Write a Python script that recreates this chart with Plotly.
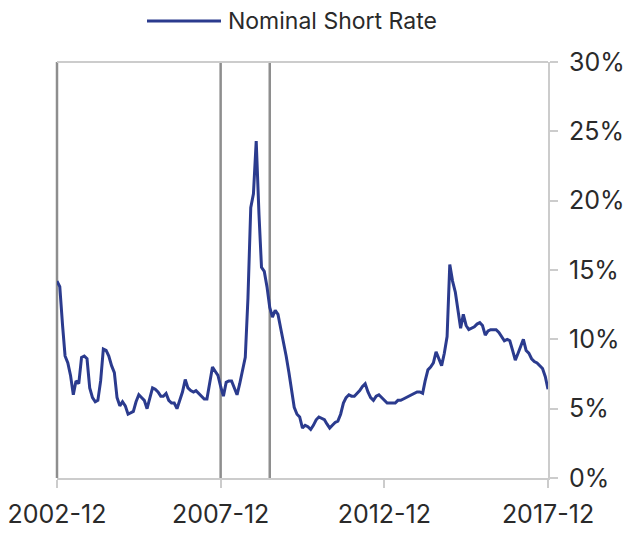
import pandas as pd
import plotly.graph_objects as go

# Monthly nominal short rate (%), starting 2002-12
start_month = "2002-12-01"
rate_values = [
    14.2, 13.8, 11.0, 8.8, 8.3, 7.4, 6.0, 7.0, 6.8, 8.7,
    8.8, 8.6, 6.5, 5.8, 5.5, 5.6, 7.0, 9.3, 9.2, 8.8,
    8.1, 7.6, 5.8, 5.2, 5.5, 5.2, 4.6, 4.7, 4.8, 5.5,
    6.0, 5.8, 5.6, 5.0, 5.8, 6.5, 6.4, 6.2, 5.9, 5.9,
    6.1, 5.6, 5.4, 5.4, 5.0, 5.6, 6.2, 7.1, 6.5, 6.3,
    6.2, 6.3, 6.1, 5.9, 5.7, 5.7, 7.0, 8.0, 7.7, 7.4,
    6.6, 5.9, 6.9, 7.0, 7.0, 6.5, 6.0, 6.8, 7.8, 8.7,
    13.0, 19.5, 20.5, 24.3, 19.0, 15.2, 14.9, 13.8, 12.3, 11.6,
    12.1, 11.8, 10.8, 9.9, 8.8, 7.6, 6.3, 5.1, 4.6, 4.4,
    3.6, 3.8, 3.7, 3.5, 3.8, 4.2, 4.4, 4.3, 4.2, 3.9,
    3.6, 3.8, 4.0, 4.1, 4.6, 5.4, 5.8, 6.0, 5.9, 5.9,
    6.1, 6.3, 6.6, 6.8, 6.2, 5.8, 5.6, 5.9, 6.0, 5.8,
    5.6, 5.4, 5.4, 5.4, 5.4, 5.6, 5.6, 5.7, 5.8, 5.9,
    6.0, 6.1, 6.2, 6.2, 6.1, 7.0, 7.8, 8.0, 8.3, 9.1,
    8.6, 8.1, 9.0, 10.2, 15.4, 14.2, 13.4, 12.3, 10.8, 11.8,
    11.0, 10.7, 10.8, 10.9, 11.1, 11.2, 11.0, 10.3, 10.6, 10.7,
    10.7, 10.7, 10.5, 10.2, 9.9, 10.0, 9.9, 9.2, 8.5, 9.0,
    9.6, 10.0, 9.2, 9.0, 8.6, 8.4, 8.3, 8.1, 7.9, 7.3,
    6.4,
]
recession_lines = ["2007-12-01", "2009-06-01"]
x_tick_vals = ["2002-12-01", "2007-12-01", "2012-12-01", "2017-12-01"]
x_tick_text = ["2002-12", "2007-12", "2012-12", "2017-12"]
y_tick_vals = [0, 5, 10, 15, 20, 25, 30]
y_tick_text = ["0%", "5%", "10%", "15%", "20%", "25%", "30%"]
series_name = "Nominal Short Rate"

dates = pd.date_range(start=start_month, periods=len(rate_values), freq="MS")

LINE_COLOR = "#2b3b8e"
FAM = "Inter, Lato, 'Noto Sans', sans-serif"
X_FONT = dict(family=FAM, size=25, color="#2a2a2a")
Y_FONT = dict(family=FAM, size=25, color="#2a2a2a")
LEG_FONT = dict(family=FAM, size=23, color="#2a2a2a")

# page body adds an 8px offset; size the figure to fill the rest
OFF = 8
W, H = 635 - OFF, 533 - OFF
L, R, T, B = 57 - OFF, 87, 62 - OFF, 55
PW, PH = W - L - R, H - T - B

fig = go.Figure()
fig.add_trace(go.Scatter(
    x=dates, y=rate_values, mode="lines", name=series_name,
    line=dict(color=LINE_COLOR, width=3), showlegend=False,
))

shapes = []
for d in recession_lines:
    shapes.append(dict(type="line", xref="x", yref="paper", x0=d, x1=d, y0=0, y1=1,
                       line=dict(color="#8e8e8e", width=2.5), layer="below"))
shapes.append(dict(type="line", xref="paper", yref="paper", x0=0, x1=0, y0=0, y1=1,
                   line=dict(color="#8e8e8e", width=2.5), layer="below"))
shapes.append(dict(type="line", xref="paper", yref="paper", x0=0, x1=1, y0=1, y1=1,
                   line=dict(color="#cccccc", width=2), layer="below"))
leg_y = (478 - 21) / PH
shapes.append(dict(type="line", xref="paper", yref="paper",
                   x0=(147 - 57) / PW, x1=(221 - 57) / PW,
                   y0=leg_y, y1=leg_y,
                   line=dict(color=LINE_COLOR, width=3)))

fig.update_layout(
    width=W, height=H,
    margin=dict(l=L, r=R, t=T, b=B, autoexpand=False),
    paper_bgcolor="white", plot_bgcolor="white",
    font=X_FONT,
    shapes=shapes,
    annotations=[dict(text=series_name, xref="paper", yref="paper",
                      x=(226 - 57) / PW, y=leg_y,
                      xanchor="left", yanchor="middle", showarrow=False,
                      font=LEG_FONT)],
    xaxis=dict(
        type="date", range=[x_tick_vals[0], x_tick_vals[-1]],
        tickvals=x_tick_vals, ticktext=x_tick_text, automargin=False,
        showgrid=False, zeroline=False,
        showline=True, linecolor="#cccccc", linewidth=2,
        ticks="outside", ticklen=8, tickcolor="#cccccc", tickwidth=1.5,
        ticklabelstandoff=5, tickfont=X_FONT, ticklabeloverflow="allow",
    ),
    yaxis=dict(
        side="right", range=[0, 30], automargin=False,
        tickvals=y_tick_vals, ticktext=y_tick_text,
        showgrid=False, zeroline=False,
        showline=True, linecolor="#cccccc", linewidth=2,
        ticks="outside", ticklen=8, tickcolor="#cccccc", tickwidth=1.5,
        ticklabelstandoff=6, tickfont=Y_FONT, ticklabeloverflow="allow",
    ),
)

fig.write_html("out.html")
